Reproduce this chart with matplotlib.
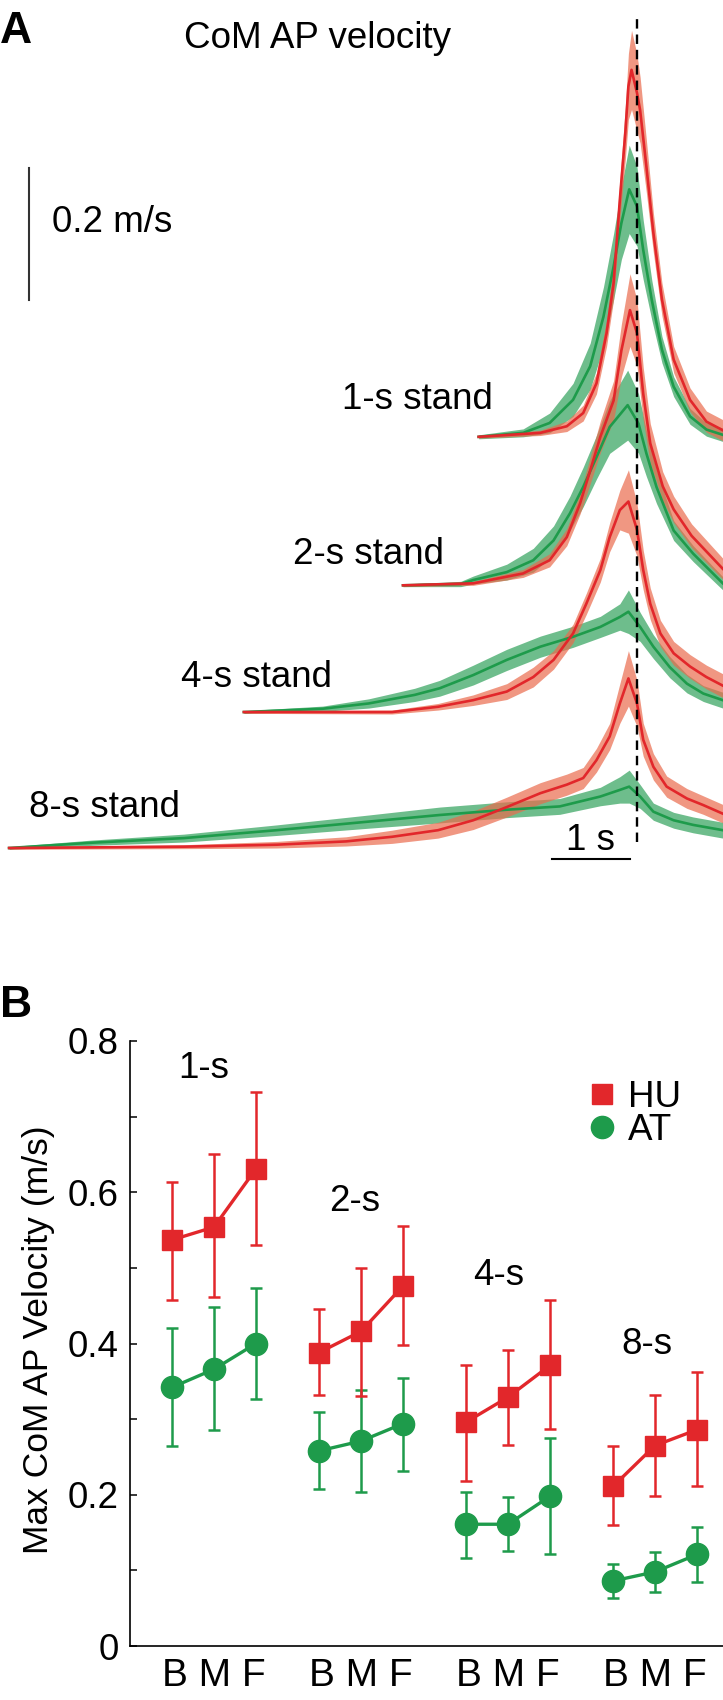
import matplotlib
matplotlib.use('Agg')
import matplotlib.pyplot as plt
import numpy as np

plt.rcParams['font.family'] = ['Liberation Sans', 'DejaVu Sans']

# ---- panel A: mean CoM AP velocity traces (time in s, 0 = dashed line; m/s) ----
hu_color = '#E2272B'
at_color = '#1E9B4B'
hu_band = '#EA6B4D'
at_band = '#30A25B'

stand_labels = ['1-s stand', '2-s stand', '4-s stand', '8-s stand']

hu1_t = [-2.03, -1.24, -0.90, -0.69, -0.52, -0.39, -0.30, -0.22, -0.15, -0.11, -0.07, 0.0, 0.04, 0.12, 0.21, 0.32, 0.47, 0.68, 0.89, 1.1]
hu1_v = [0.0, 0.006, 0.016, 0.036, 0.081, 0.157, 0.233, 0.359, 0.460, 0.531, 0.556, 0.521, 0.495, 0.410, 0.309, 0.208, 0.117, 0.056, 0.023, 0.010]
hu1_sd = [0.002, 0.004, 0.008, 0.012, 0.016, 0.02, 0.025, 0.03, 0.04, 0.05, 0.06, 0.058, 0.05, 0.04, 0.03, 0.025, 0.02, 0.018, 0.016, 0.016]
at1_t = [-2.03, -1.46, -1.12, -0.82, -0.60, -0.43, -0.30, -0.20, -0.10, 0.0, 0.08, 0.19, 0.32, 0.47, 0.68, 0.89, 1.1]
at1_v = [0.0, 0.006, 0.021, 0.056, 0.107, 0.182, 0.258, 0.324, 0.375, 0.349, 0.283, 0.207, 0.132, 0.076, 0.031, 0.011, 0.003]
at1_sd = [0.003, 0.006, 0.015, 0.025, 0.035, 0.045, 0.05, 0.055, 0.067, 0.06, 0.045, 0.03, 0.02, 0.015, 0.012, 0.01, 0.01]

hu2_t = [-3.0, -2.10, -1.46, -1.12, -0.90, -0.73, -0.60, -0.47, -0.30, -0.20, -0.09, 0.0, 0.08, 0.17, 0.33, 0.47, 0.70, 1.1]
hu2_v = [0.0, 0.003, 0.018, 0.038, 0.073, 0.124, 0.174, 0.225, 0.280, 0.356, 0.417, 0.382, 0.290, 0.215, 0.150, 0.115, 0.075, 0.025]
hu2_sd = [0.002, 0.003, 0.006, 0.01, 0.013, 0.016, 0.02, 0.024, 0.03, 0.04, 0.055, 0.05, 0.04, 0.03, 0.022, 0.02, 0.018, 0.016]
at2_t = [-3.0, -2.26, -2.10, -1.67, -1.33, -1.07, -0.86, -0.69, -0.52, -0.35, -0.12, 0.02, 0.12, 0.25, 0.47, 0.72, 1.1]
at2_v = [0.0, 0.002, 0.008, 0.020, 0.038, 0.068, 0.109, 0.149, 0.194, 0.240, 0.273, 0.245, 0.200, 0.149, 0.083, 0.048, 0.003]
at2_sd = [0.002, 0.004, 0.006, 0.012, 0.018, 0.022, 0.026, 0.03, 0.033, 0.04, 0.053, 0.045, 0.035, 0.025, 0.015, 0.012, 0.01]

hu4_t = [-5.04, -3.14, -2.55, -2.10, -1.67, -1.33, -1.07, -0.82, -0.65, -0.47, -0.35, -0.22, -0.11, 0.0, 0.08, 0.17, 0.30, 0.47, 0.68, 0.89, 1.1]
hu4_v = [0.0, 0.0, 0.008, 0.018, 0.031, 0.053, 0.079, 0.119, 0.164, 0.215, 0.265, 0.306, 0.319, 0.276, 0.215, 0.164, 0.119, 0.089, 0.069, 0.053, 0.040]
hu4_sd = [0.002, 0.003, 0.005, 0.008, 0.012, 0.015, 0.014, 0.014, 0.016, 0.018, 0.022, 0.03, 0.048, 0.04, 0.03, 0.024, 0.02, 0.018, 0.018, 0.018, 0.018]
at4_t = [-5.04, -4.03, -3.44, -2.85, -2.53, -2.10, -1.67, -1.24, -0.82, -0.47, -0.22, -0.11, 0.04, 0.21, 0.42, 0.64, 0.85, 1.1]
at4_v = [0.0, 0.005, 0.013, 0.026, 0.036, 0.056, 0.079, 0.099, 0.114, 0.129, 0.144, 0.152, 0.129, 0.099, 0.068, 0.043, 0.028, 0.018]
at4_sd = [0.002, 0.004, 0.007, 0.01, 0.012, 0.015, 0.016, 0.016, 0.016, 0.016, 0.02, 0.033, 0.022, 0.018, 0.016, 0.014, 0.012, 0.012]

hu8_t = [-8.05, -5.81, -4.62, -3.73, -3.14, -2.55, -2.10, -1.67, -1.24, -0.90, -0.69, -0.52, -0.35, -0.22, -0.11, 0.0, 0.08, 0.21, 0.38, 0.64, 0.85, 1.1]
hu8_v = [0.0, 0.002, 0.005, 0.010, 0.017, 0.027, 0.042, 0.062, 0.083, 0.096, 0.106, 0.133, 0.169, 0.219, 0.257, 0.219, 0.164, 0.123, 0.093, 0.075, 0.065, 0.052]
hu8_sd = [0.002, 0.003, 0.005, 0.007, 0.01, 0.012, 0.014, 0.015, 0.016, 0.016, 0.016, 0.018, 0.02, 0.03, 0.042, 0.035, 0.025, 0.02, 0.016, 0.015, 0.014, 0.014]
at8_t = [-8.05, -6.99, -5.81, -4.62, -3.44, -2.53, -1.67, -0.99, -0.47, -0.22, -0.10, 0.04, 0.21, 0.47, 0.72, 1.1]
at8_v = [0.0, 0.008, 0.015, 0.027, 0.040, 0.050, 0.058, 0.063, 0.078, 0.088, 0.093, 0.078, 0.055, 0.042, 0.035, 0.027]
at8_sd = [0.002, 0.004, 0.006, 0.008, 0.01, 0.012, 0.012, 0.012, 0.014, 0.02, 0.025, 0.018, 0.013, 0.012, 0.012, 0.012]

hu_traces = [(hu1_t, hu1_v, hu1_sd), (hu2_t, hu2_v, hu2_sd), (hu4_t, hu4_v, hu4_sd), (hu8_t, hu8_v, hu8_sd)]
at_traces = [(at1_t, at1_v, at1_sd), (at2_t, at2_v, at2_sd), (at4_t, at4_v, at4_sd), (at8_t, at8_v, at8_sd)]

# ---- panel B: max CoM AP velocity (m/s), order B M F for 1-s, 2-s, 4-s, 8-s ----
groups = ['1-s', '2-s', '4-s', '8-s']
phases = ['B', 'M', 'F']
hu_mean = [0.537, 0.554, 0.631, 0.388, 0.416, 0.476, 0.296, 0.329, 0.371, 0.211, 0.265, 0.286]
hu_lo = [0.458, 0.461, 0.530, 0.332, 0.331, 0.398, 0.218, 0.266, 0.287, 0.160, 0.198, 0.211]
hu_hi = [0.613, 0.650, 0.733, 0.445, 0.500, 0.555, 0.372, 0.392, 0.457, 0.264, 0.332, 0.362]
at_mean = [0.342, 0.366, 0.400, 0.258, 0.271, 0.294, 0.161, 0.161, 0.198, 0.086, 0.098, 0.121]
at_lo = [0.264, 0.286, 0.327, 0.208, 0.204, 0.232, 0.117, 0.125, 0.121, 0.063, 0.072, 0.085]
at_hi = [0.421, 0.448, 0.473, 0.309, 0.338, 0.355, 0.203, 0.197, 0.275, 0.108, 0.124, 0.158]

W, H = 723, 1700
FS = 26.5
fig = plt.figure(figsize=(W / 100, H / 100), dpi=100)

# ================= panel A =================
axA = fig.add_axes([0, 1 - 870 / H, 1, 870 / H])
px_per_s = 78.0
px_per_ms = 660.0
axA.set_xlim(-637 / px_per_s, 86 / px_per_s)
axA.set_ylim((848 - 870) / px_per_ms, 848 / px_per_ms)
axA.axis('off')

offsets = [0.623, 0.398, 0.206, 0.0]
label_x = [-2.81, -3.44, -4.88, -6.83]
label_dy = [0.056, 0.046, 0.053, 0.061]

for k in range(4):
    off = offsets[k]
    t, v, sd = [np.array(a) for a in at_traces[k]]
    axA.fill_between(t, off + v - sd, off + v + sd, color=at_band, alpha=0.7, lw=0)
    t2, v2, sd2 = [np.array(a) for a in hu_traces[k]]
    axA.fill_between(t2, off + v2 - sd2, off + v2 + sd2, color=hu_band, alpha=0.7, lw=0)
    axA.plot(t, off + v, color=at_color, lw=1.9)
    axA.plot(t2, off + v2, color=hu_color, lw=1.9)
    axA.text(label_x[k], off + label_dy[k], stand_labels[k], fontsize=FS,
             ha='center', va='center')

axA.axvline(0, ymin=28 / 870, ymax=855 / 870, color='black', lw=1.7,
            linestyle=(0, (4, 2.5)))

# scale bars
axA.plot([-7.795, -7.795], [1.030, 1.030 - 0.2], color='#333333', lw=1.5)
axA.text(-7.50, 0.947, '0.2 m/s', fontsize=FS, ha='left', va='center')
axA.plot([-1.09, -0.09], [-0.0167, -0.0167], color='black', lw=1.5)
axA.text(-0.59, 0.012, '1 s', fontsize=FS, ha='center', va='center')

fig.text(318 / W, 1 - 48 / H, 'CoM AP velocity', fontsize=FS, ha='center', va='baseline')
fig.text(0 / W, 1 - 43 / H, 'A', fontsize=32, fontweight='bold', ha='left', va='baseline')

# ================= panel B =================
axB = fig.add_axes([130 / W, 54 / H, 593 / W, 605 / H])
xpos = np.array([g * 3.5 + i for g in range(4) for i in range(3)], dtype=float)

hu_mean_a = np.array(hu_mean)
at_mean_a = np.array(at_mean)
hu_err = [hu_mean_a - np.array(hu_lo), np.array(hu_hi) - hu_mean_a]
at_err = [at_mean_a - np.array(at_lo), np.array(at_hi) - at_mean_a]

axB.errorbar(xpos, at_mean_a, yerr=at_err, fmt='none', ecolor=at_color,
             elinewidth=1.8, capsize=4, capthick=1.8, zorder=2)
axB.errorbar(xpos, hu_mean_a, yerr=hu_err, fmt='none', ecolor=hu_color,
             elinewidth=1.8, capsize=4, capthick=1.8, zorder=2)

hu_line = None
at_line = None
for g in range(4):
    sl = slice(g * 3, g * 3 + 3)
    l1, = axB.plot(xpos[sl], at_mean_a[sl], color=at_color, lw=2.4, marker='o',
                   ms=16, zorder=3)
    l2, = axB.plot(xpos[sl], hu_mean_a[sl], color=hu_color, lw=2.4, marker='s',
                   ms=14.4, zorder=4)
    at_line, hu_line = l1, l2

group_lx = [0.76, 4.36, 7.79, 11.31]
group_ly = [0.763, 0.588, 0.490, 0.399]
for g in range(4):
    axB.text(group_lx[g], group_ly[g], groups[g], fontsize=FS, ha='center', va='center')

axB.set_xlim(-1.0, 13.12)
axB.set_ylim(0, 0.8)
axB.set_xticks(xpos[1::3])
axB.set_xticklabels([' '.join(phases)] * 4)
axB.set_yticks([0, 0.2, 0.4, 0.6, 0.8])
axB.set_yticklabels(['0', '0.2', '0.4', '0.6', '0.8'])
axB.set_yticks([0.1, 0.3, 0.5, 0.7], minor=True)
axB.tick_params(axis='y', which='both', direction='in', length=5, width=1.1,
                labelsize=FS, pad=8)
axB.tick_params(axis='x', length=0, labelsize=28, pad=9)
for s in ['top', 'right']:
    axB.spines[s].set_visible(False)
for s in ['left', 'bottom']:
    axB.spines[s].set_linewidth(1.2)

fig.text(39 / W, 1 - 1340 / H, 'Max CoM AP Velocity (m/s)', fontsize=25.5,
         rotation=90, ha='center', va='center')

leg = axB.legend([hu_line, at_line], ['HU', 'AT'], loc='center left',
                 bbox_to_anchor=(0.796, 0.880), frameon=False, fontsize=FS,
                 handlelength=0, handletextpad=0.7, borderpad=0,
                 borderaxespad=0, labelspacing=-0.05, numpoints=1)

fig.text(0 / W, 1 - 1017 / H, 'B', fontsize=32, fontweight='bold', ha='left', va='baseline')

fig.savefig('out.png', dpi=100)
